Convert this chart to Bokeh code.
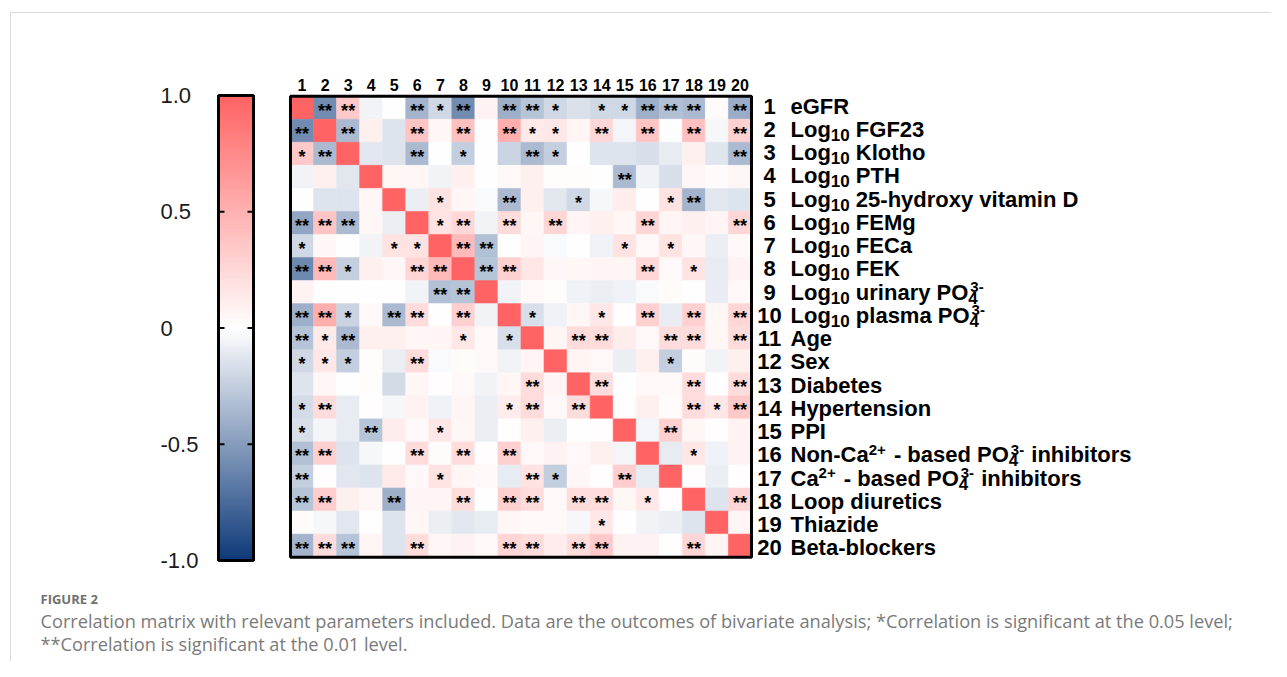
import numpy as np
from bokeh.plotting import figure
from bokeh.models import Range1d, ColumnDataSource, LinearColorMapper
from bokeh.core.properties import value
from bokeh.embed import file_html
from bokeh.resources import INLINE

# ---------------- data ----------------
corr = [
    [1, -0.58, 0.35, -0.06, 0.0, -0.38, -0.2, -0.58, 0.08, -0.4, -0.3, -0.2, -0.15, -0.2, -0.2, -0.4, -0.32, -0.35, 0.03, -0.42],
    [-0.58, 1, -0.35, 0.1, -0.14, 0.38, 0.06, 0.4, 0.0, 0.52, 0.14, 0.15, 0.07, 0.25, -0.05, 0.38, 0.0, 0.4, -0.04, 0.3],
    [0.35, -0.35, 1, -0.12, -0.14, -0.35, 0.0, -0.25, 0.0, -0.22, -0.35, -0.25, 0.0, -0.14, -0.14, -0.16, -0.1, 0.1, -0.13, -0.35],
    [-0.06, 0.1, -0.12, 1, 0.06, 0.06, -0.06, 0.1, 0.0, 0.04, 0.1, 0.02, 0.02, 0.0, -0.35, -0.07, -0.16, 0.05, 0.03, 0.06],
    [0.0, -0.14, -0.14, 0.06, 1, -0.08, 0.18, 0.05, -0.03, -0.35, 0.1, -0.12, -0.2, -0.04, 0.12, 0.0, 0.18, -0.38, -0.12, -0.14],
    [-0.45, 0.38, -0.35, 0.06, -0.08, 1, 0.18, 0.25, -0.06, 0.22, 0.06, 0.27, 0.07, 0.1, 0.06, 0.27, 0.07, 0.1, 0.07, 0.27],
    [-0.2, 0.06, 0.0, -0.06, 0.18, 0.18, 1, 0.45, -0.32, 0.0, 0.07, -0.03, 0.0, -0.07, 0.18, 0.04, 0.18, 0.06, -0.08, 0.04],
    [-0.6, 0.45, -0.25, 0.1, 0.05, 0.27, 0.45, 1, -0.3, 0.3, 0.15, 0.05, 0.06, 0.07, 0.07, 0.25, 0.04, 0.18, -0.1, 0.08],
    [0.08, 0.0, 0.0, 0.0, 0.0, -0.06, -0.32, -0.3, 1, -0.06, 0.04, 0.02, -0.07, -0.08, -0.07, -0.03, 0.03, 0.0, -0.09, 0.04],
    [-0.4, 0.52, -0.22, 0.04, -0.35, 0.22, 0.0, 0.3, -0.06, 1, -0.16, -0.07, 0.06, 0.15, 0.01, 0.3, -0.09, 0.3, 0.06, 0.27],
    [-0.3, 0.14, -0.35, 0.1, 0.1, 0.06, 0.07, 0.15, 0.04, -0.16, 1, 0.07, 0.22, 0.22, 0.12, 0.04, 0.22, 0.22, 0.06, 0.22],
    [-0.2, 0.15, -0.25, 0.02, -0.08, 0.22, -0.03, 0.03, 0.04, -0.06, 0.07, 1, 0.07, 0.04, -0.08, 0.1, -0.25, 0.03, -0.06, 0.1],
    [-0.14, 0.06, 0.0, 0.02, -0.18, 0.06, 0.01, 0.04, -0.06, 0.06, 0.22, 0.07, 1, 0.22, 0.0, 0.04, 0.04, 0.22, 0.0, 0.22],
    [-0.18, 0.22, -0.1, 0.01, -0.04, 0.08, -0.07, 0.07, -0.08, 0.12, 0.22, 0.04, 0.22, 1, 0.01, 0.1, 0.03, 0.22, 0.15, 0.35],
    [-0.16, -0.05, -0.1, -0.3, 0.12, 0.04, 0.15, 0.06, -0.08, 0.01, 0.1, -0.08, 0.0, 0.01, 1, -0.05, 0.3, 0.06, 0.01, 0.08],
    [-0.32, 0.3, -0.14, -0.04, 0.0, 0.22, 0.03, 0.22, 0.01, 0.3, 0.04, 0.08, 0.04, 0.1, -0.05, 1, -0.1, 0.15, -0.07, 0.08],
    [-0.25, 0.01, -0.12, -0.14, 0.14, 0.04, 0.18, 0.06, 0.04, -0.1, 0.18, -0.25, 0.06, 0.01, 0.32, -0.1, 1, 0.01, -0.08, 0.01],
    [-0.3, 0.32, 0.1, 0.06, -0.4, 0.07, 0.07, 0.22, 0.0, 0.3, 0.22, 0.04, 0.22, 0.22, 0.06, 0.15, 0.01, 1, -0.14, 0.27],
    [0.03, -0.04, -0.12, 0.01, -0.14, 0.06, -0.08, -0.12, -0.1, 0.06, 0.04, 0.04, -0.04, 0.15, 0.01, -0.06, -0.08, -0.14, 1, 0.07],
    [-0.38, 0.22, -0.3, 0.07, -0.14, 0.22, 0.06, 0.08, 0.04, 0.27, 0.22, 0.12, 0.22, 0.35, 0.08, 0.08, 0.01, 0.27, 0.07, 1],
]

stars = [
    ["", "**", "**", "", "", "**", "*", "**", "", "**", "**", "*", "", "*", "*", "**", "**", "**", "", "**"],
    ["**", "", "**", "", "", "**", "", "**", "", "**", "*", "*", "", "**", "", "**", "", "**", "", "**"],
    ["*", "**", "", "", "", "**", "", "*", "", "", "**", "*", "", "", "", "", "", "", "", "**"],
    ["", "", "", "", "", "", "", "", "", "", "", "", "", "", "**", "", "", "", "", ""],
    ["", "", "", "", "", "", "*", "", "", "**", "", "", "*", "", "", "", "*", "**", "", ""],
    ["**", "**", "**", "", "", "", "*", "**", "", "**", "", "**", "", "", "", "**", "", "", "", "**"],
    ["*", "", "", "", "*", "*", "", "**", "**", "", "", "", "", "", "*", "", "*", "", "", ""],
    ["**", "**", "*", "", "", "**", "**", "", "**", "**", "", "", "", "", "", "**", "", "*", "", ""],
    ["", "", "", "", "", "", "**", "**", "", "", "", "", "", "", "", "", "", "", "", ""],
    ["**", "**", "*", "", "**", "**", "", "**", "", "", "*", "", "", "*", "", "**", "", "**", "", "**"],
    ["**", "*", "**", "", "", "", "", "*", "", "*", "", "", "**", "**", "", "", "**", "**", "", "**"],
    ["*", "*", "*", "", "", "**", "", "", "", "", "", "", "", "", "", "", "*", "", "", ""],
    ["", "", "", "", "", "", "", "", "", "", "**", "", "", "**", "", "", "", "**", "", "**"],
    ["*", "**", "", "", "", "", "", "", "", "*", "**", "", "**", "", "", "", "", "**", "*", "**"],
    ["*", "", "", "**", "", "", "*", "", "", "", "", "", "", "", "", "", "**", "", "", ""],
    ["**", "**", "", "", "", "**", "", "**", "", "**", "", "", "", "", "", "", "", "*", "", ""],
    ["**", "", "", "", "", "", "*", "", "", "", "**", "*", "", "", "**", "", "", "", "", ""],
    ["**", "**", "", "", "**", "", "", "**", "", "**", "**", "", "**", "**", "", "*", "", "", "", "**"],
    ["", "", "", "", "", "", "", "", "", "", "", "", "", "*", "", "", "", "", "", ""],
    ["**", "**", "**", "", "", "**", "", "", "", "**", "**", "", "**", "**", "", "", "", "**", "", ""],
]

col_labels = [str(i) for i in range(1, 21)]
row_numbers = [str(i) for i in range(1, 21)]
row_label_parts = [
    [("eGFR", "n")],
    [("Log", "n"), ("10", "sub"), (" FGF23", "n")],
    [("Log", "n"), ("10", "sub"), (" Klotho", "n")],
    [("Log", "n"), ("10", "sub"), (" PTH", "n")],
    [("Log", "n"), ("10", "sub"), (" 25-hydroxy vitamin D", "n")],
    [("Log", "n"), ("10", "sub"), (" FEMg", "n")],
    [("Log", "n"), ("10", "sub"), (" FECa", "n")],
    [("Log", "n"), ("10", "sub"), (" FEK", "n")],
    [("Log", "n"), ("10", "sub"), (" urinary PO", "n"), ("4", "sub"), ("3-", "supst")],
    [("Log", "n"), ("10", "sub"), (" plasma PO", "n"), ("4", "sub"), ("3-", "supst")],
    [("Age", "n")],
    [("Sex", "n")],
    [("Diabetes", "n")],
    [("Hypertension", "n")],
    [("PPI", "n")],
    [("Non-Ca", "n"), ("2+", "sup"), (" - based PO", "n"), ("4", "sub"), ("3-", "supst"), (" inhibitors", "n")],
    [("Ca", "n"), ("2+", "sup"), (" - based PO", "n"), ("4", "sub"), ("3-", "supst"), (" inhibitors", "n")],
    [("Loop diuretics", "n")],
    [("Thiazide", "n")],
    [("Beta-blockers", "n")],
]
cbar_ticks = [1.0, 0.5, 0.0, -0.5, -1.0]
cbar_tick_labels = ["1.0", "0.5", "0", "-0.5", "-1.0"]
cbar_inner_ticks = [0.5, 0.0, -0.5]
caption_title = "FIGURE 2"
caption_lines = [
    "Correlation matrix with relevant parameters included. Data are the outcomes of bivariate analysis; *Correlation is significant at the 0.05 level;",
    "**Correlation is significant at the 0.01 level.",
]

# ---------------- layout helpers ----------------
N = len(corr)
W, H = 1271, 661
CELL = 23.05
MX0, MY0 = 290.0, 95.7
X0 = 0.5 - MX0 / CELL
Y0 = 0.5 - MY0 / CELL


def dx(px):
    return X0 + px / CELL


def dy(py):
    return Y0 + py / CELL


CB_TOP, CB_BOT = 95.0, 560.0
cb_scale = (CB_BOT - CB_TOP) / 2.0
LAB_STEP, LAB_FIRST = 23.26, 105.5
lab_top = 1 - LAB_FIRST / LAB_STEP

p = figure(width=W, height=H,
           x_range=Range1d(X0, X0 + W / CELL),
           y_range=Range1d(Y0 + H / CELL, Y0),
           output_backend="svg", toolbar_location=None, min_border=0,
           x_axis_location=None, y_axis_location=None)
p.grid.visible = False
p.outline_line_color = None
p.background_fill_color = "white"
p.extra_y_ranges = {
    "cb": Range1d(start=-1 - (H - CB_BOT) / cb_scale, end=1 + CB_TOP / cb_scale),
    "lab": Range1d(start=lab_top + H / LAB_STEP, end=lab_top),
}

# palette: navy -> white -> red
NAVY = (14, 58, 122)
WHITE = (255, 255, 255)
RED = (255, 99, 99)


def mix(a, b, t):
    return "#%02x%02x%02x" % tuple(int(round(a[i] + (b[i] - a[i]) * t)) for i in range(3))


palette = []
for k in range(256):
    v = -1 + 2 * k / 255
    palette.append(mix(WHITE, NAVY, -v) if v < 0 else mix(WHITE, RED, v))
mapper = LinearColorMapper(palette=palette, low=-1, high=1)

# frame lines of the card
p.segment(x0=[dx(10), dx(10)], y0=[dy(12), dy(12)], x1=[dx(W + 20), dx(10)], y1=[dy(12), dy(H + 20)],
          line_color="#d9d9d9", line_width=1)

# ---------------- matrix ----------------
xs, ys, rs, ss = [], [], [], []
for i in range(N):
    for j in range(N):
        xs.append(j + 1)
        ys.append(i + 1)
        rs.append(corr[i][j])
        ss.append(stars[i][j])
src = ColumnDataSource(dict(x=xs, y=ys, r=rs, s=ss))
cmap = {"field": "r", "transform": mapper}
p.rect(x="x", y="y", width=1, height=1, source=src, fill_color=cmap, line_color=cmap, line_width=0.6)
p.text(x="x", y="y", text="s", source=src, text_align="center", text_baseline="middle",
       y_offset=3, text_font=value("Liberation Sans"), text_font_style="bold",
       text_font_size="18px", text_color="black")
p.rect(x=[(N + 1) / 2], y=[(N + 1) / 2], width=N, height=N, fill_color=None,
       line_color="black", line_width=3)

# column numbers
p.text(x=list(range(1, N + 1)), y=[0.5] * N, text=col_labels, text_align="center",
       text_baseline="middle", y_offset=-11, text_font=value("Liberation Sans"),
       text_font_style="bold", text_font_size="16px", text_color="black")

# row numbers
MAIN = 22
p.text(x=[N + 0.5] * N, y=list(range(1, N + 1)), text=row_numbers, x_offset=18,
       text_align="center", text_baseline="middle", y_range_name="lab",
       text_font=value("Liberation Sans"), text_font_style="bold",
       text_font_size="%dpx" % MAIN, text_color="black")

# row labels with sub/superscripts
AB = {' ': 278, '-': 333, '+': 584, 'A': 722, 'B': 722, 'C': 722, 'D': 722, 'E': 667,
      'F': 611, 'G': 778, 'H': 722, 'I': 278, 'K': 722, 'L': 611, 'M': 833, 'N': 722,
      'O': 778, 'P': 667, 'R': 722, 'S': 667, 'T': 611, 'a': 556, 'b': 611, 'c': 556,
      'd': 611, 'e': 556, 'f': 333, 'g': 611, 'h': 611, 'i': 278, 'k': 556, 'l': 278,
      'm': 889, 'n': 611, 'o': 611, 'p': 611, 'r': 389, 's': 556, 't': 333, 'u': 611,
      'v': 556, 'x': 556, 'y': 556, 'z': 500}
SIZES = {"n": MAIN, "sub": 17, "sup": 15, "supst": 15}


def tw(s, size):
    return sum(AB.get(ch, 556) for ch in s) * size / 1000.0


pieces = {"n": dict(y=[], t=[], o=[]), "sub": dict(y=[], t=[], o=[]), "sup": dict(y=[], t=[], o=[])}
TEXT_START = 39.0
for ri, parts in enumerate(row_label_parts):
    x = TEXT_START
    sub_x = x
    for txt, kind in parts:
        size = SIZES[kind]
        lead = len(txt) - len(txt.lstrip(" "))
        lead_w = tw(" " * lead, size)
        if kind == "supst":
            px = sub_x + 2
            key = "sup"
            x = max(x, px + tw(txt, size)) + 1
        else:
            px = x
            key = kind
            if kind == "sub":
                sub_x = x
            x = x + tw(txt, size)
            if kind == "sup":
                x += 2
        pieces[key]["y"].append(ri + 1)
        pieces[key]["t"].append(txt.strip(" "))
        pieces[key]["o"].append(px + lead_w)

YOFF = {"n": 0.0, "sub": 5.5, "sup": -5.0}
for key, d in pieces.items():
    s = ColumnDataSource(dict(x=[N + 0.5] * len(d["y"]), y=d["y"], t=d["t"], o=d["o"]))
    p.text(x="x", y="y", text="t", x_offset="o", source=s, y_offset=YOFF[key],
           y_range_name="lab", text_align="left", text_baseline="middle",
           text_font=value("Liberation Sans"), text_font_style="bold",
           text_font_size="%dpx" % SIZES[key], text_color="black")

# ---------------- colour bar ----------------
CBX, CBW = 218.0, 35.0
grad = np.linspace(-1, 1, 256).reshape(256, 1)
p.image(image=[grad], x=dx(CBX), y=-1, dw=CBW / CELL, dh=2, color_mapper=mapper, y_range_name="cb")
p.rect(x=[dx(CBX + CBW / 2)], y=[0], width=CBW / CELL, height=2, fill_color=None,
       line_color="black", line_width=3, y_range_name="cb")
nt = len(cbar_inner_ticks)
p.segment(x0=[dx(CBX)] * nt + [dx(CBX + CBW - 6)] * nt, x1=[dx(CBX + 6)] * nt + [dx(CBX + CBW)] * nt,
          y0=cbar_inner_ticks * 2, y1=cbar_inner_ticks * 2, line_color="black", line_width=2,
          y_range_name="cb")
p.text(x=[dx(160)] * len(cbar_ticks), y=cbar_ticks, text=cbar_tick_labels, text_align="left",
       text_baseline="middle", text_font=value("Liberation Sans"), text_font_size="22px",
       text_color="#1a1a1a", y_range_name="cb")

# ---------------- caption ----------------
p.text(x=[dx(40)], y=[dy(598)], text=[caption_title], text_align="left", text_baseline="middle",
       text_font=value("Open Sans"), text_font_style="bold", text_font_size="13px",
       text_color="#707070")
p.text(x=[dx(40)] * len(caption_lines), y=[dy(620), dy(643)], text=caption_lines,
       text_align="left", text_baseline="middle", text_font=value("Open Sans"),
       text_font_size="18.2px", text_color="#7a7a7a")

open("out.html", "w").write(file_html(p, INLINE))
